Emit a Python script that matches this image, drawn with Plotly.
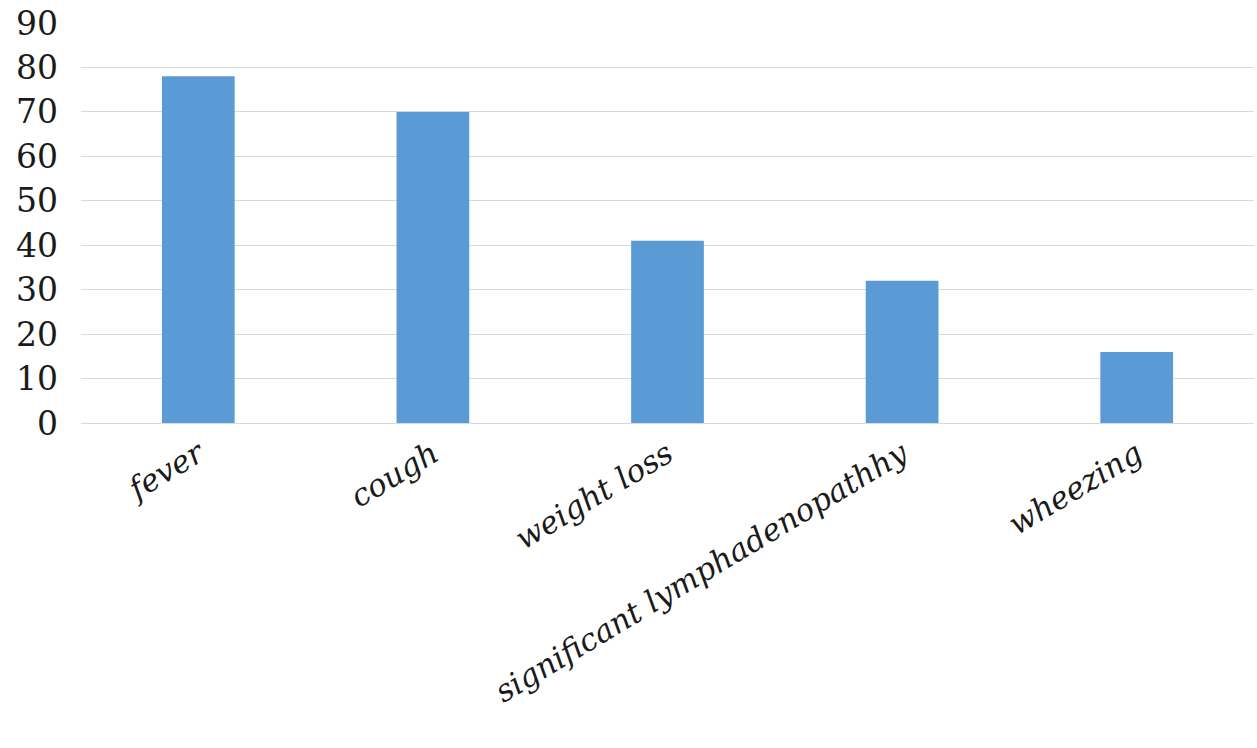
import plotly.graph_objects as go

categories = ["fever", "cough", "weight loss", "significant lymphadenopathhy", "wheezing"]
values = [78, 70, 41, 32, 16]
y_ticks = [0, 10, 20, 30, 40, 50, 60, 70, 80, 90]

fig = go.Figure()
fig.add_trace(go.Bar(
    x=categories,
    y=values,
    marker=dict(color="#5b9bd5", line=dict(width=0)),
    width=0.31,
))

fig.update_layout(
    width=1257,
    height=748,
    margin=dict(l=81, r=3, t=23, b=325),
    paper_bgcolor="white",
    plot_bgcolor="white",
    showlegend=False,
    xaxis=dict(
        tickangle=-31,
        tickfont=dict(family="DejaVu Serif", size=31, color="#1a1a1a", style="italic"),
        showgrid=False,
        showline=True,
        linecolor="#d9d9d9",
        linewidth=1,
        ticks="",
    ),
    yaxis=dict(
        range=[0, 90],
        tickvals=y_ticks,
        ticktext=[str(v) for v in y_ticks],
        tickfont=dict(family="DejaVu Serif", size=33, color="#1a1a1a"),
        showgrid=True,
        gridcolor="#d9d9d9",
        gridwidth=1,
        zeroline=False,
        showline=False,
        ticks="",
        ticklabelstandoff=22,
    ),
)

fig.write_html("out.html")
